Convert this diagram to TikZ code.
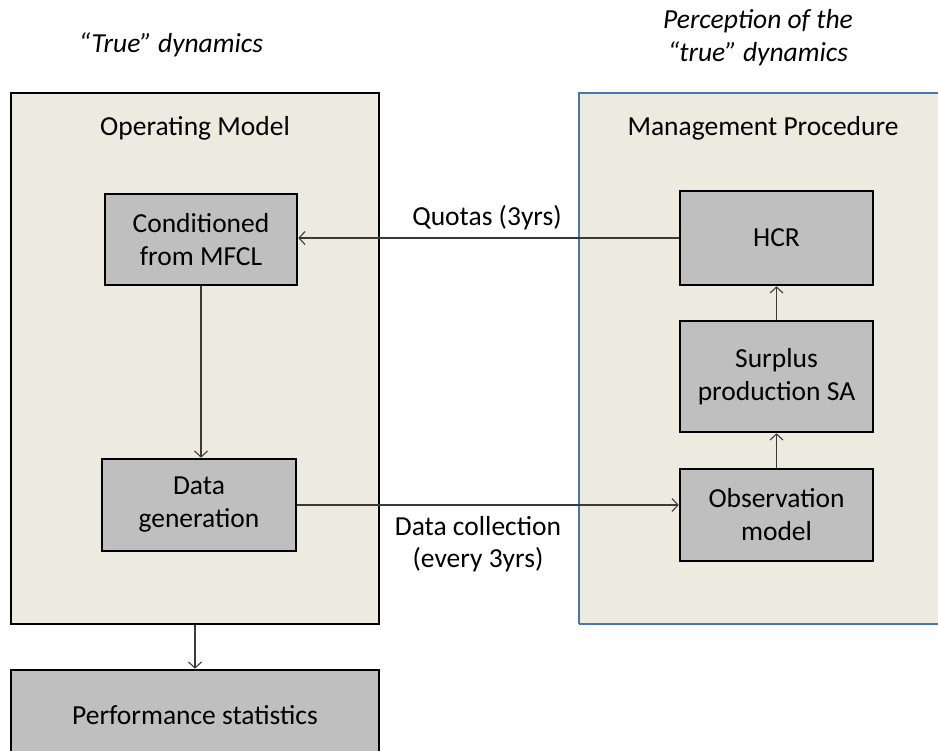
\documentclass[tikz,border=0pt]{standalone}
\usepackage{fontspec}
\setmainfont{Carlito}
\usetikzlibrary{arrows.meta}
\definecolor{panelfill}{HTML}{EDEBE0}
\definecolor{boxfill}{HTML}{BFBFBF}
\definecolor{mpblue}{HTML}{4A76AC}
\definecolor{linkgray}{HTML}{3A3A3A}
\tikzset{
  panel/.style={draw=black, line width=1.8pt, fill=panelfill, inner sep=0pt},
  stagebox/.style={draw=black, line width=2.6pt, fill=boxfill, align=center,
    inner sep=0pt, font=\fontsize{27.5}{33}\selectfont},
  title/.style={font=\fontsize{27.5}{33}\selectfont, align=center},
  note/.style={font=\itshape\fontsize{27.5}{33}\selectfont, align=center},
  link/.style={draw=linkgray, line width=1.1pt, -{Straight Barb[length=6pt,width=13pt]}},
  linklabel/.style={font=\fontsize{27.5}{32}\selectfont, align=center}
}
\begin{document}
\begin{tikzpicture}[x=1pt, y=-1pt]
\useasboundingbox (0,0) rectangle (938,751);
\clip (0,0) rectangle (938,751);
% operating model panel
\node[panel, minimum width=368pt, minimum height=531pt] (om) at (195,358.5) {};
% management procedure panel: it runs off the right edge, so only
% its top, left and bottom sides are stroked
\coordinate (mpnw) at (579,93);
\coordinate (mpse) at (960,624);
\fill[panelfill] (mpnw) rectangle (mpse);
\draw[mpblue, line width=1.8pt] (mpse -| mpnw) ++(0,0) -- (mpnw) -- (mpnw -| mpse);
\draw[mpblue, line width=1.8pt] (mpse -| mpnw) -- (mpse);
\node[title] (omtitle) at (195,128) {Operating Model};
\node[title] (mptitle) at (763,128) {Management Procedure};
\node[note] (truedyn) at (171,45) {“True” dynamics};
\node[note] (percep) at (758,38) {Perception of the\\“true” dynamics};
% stages inside the operating model
\node[stagebox, minimum width=192pt, minimum height=91pt] (cond) at (201,239.5) {Conditioned\\from MFCL};
\node[stagebox, minimum width=194pt, minimum height=92pt] (dgen) at (199,505) {Data\\generation};
% stages inside the management procedure
\node[stagebox, minimum width=193pt, minimum height=94pt] (hcr) at (776.5,238) {HCR};
\node[stagebox, minimum width=193pt, minimum height=111pt] (surp) at (776.5,376.5) {Surplus\\production SA};
\node[stagebox, minimum width=193pt, minimum height=92pt] (obs) at (776.5,515) {Observation\\model};
% outputs
\node[stagebox, minimum width=368pt, minimum height=90pt] (perf) at (195,715) {Performance statistics};
% connectors
\draw[link] (hcr.west) -- (cond.east |- hcr.west);
\draw[link] (dgen.east) -- (dgen.east -| obs.west);
\draw[link] (cond.south) -- (cond.south |- dgen.north);
\draw[link] (om.south -| perf.north) -- (perf.north);
\draw[link] (obs.north) -- (surp.south);
\draw[link] (surp.north) -- (hcr.south);
% connector labels
\node[linklabel] (quotas) at (487,218) {Quotas (3yrs)};
\node[linklabel] (collect) at (478,544) {Data collection\\(every 3yrs)};
\end{tikzpicture}
\end{document}
